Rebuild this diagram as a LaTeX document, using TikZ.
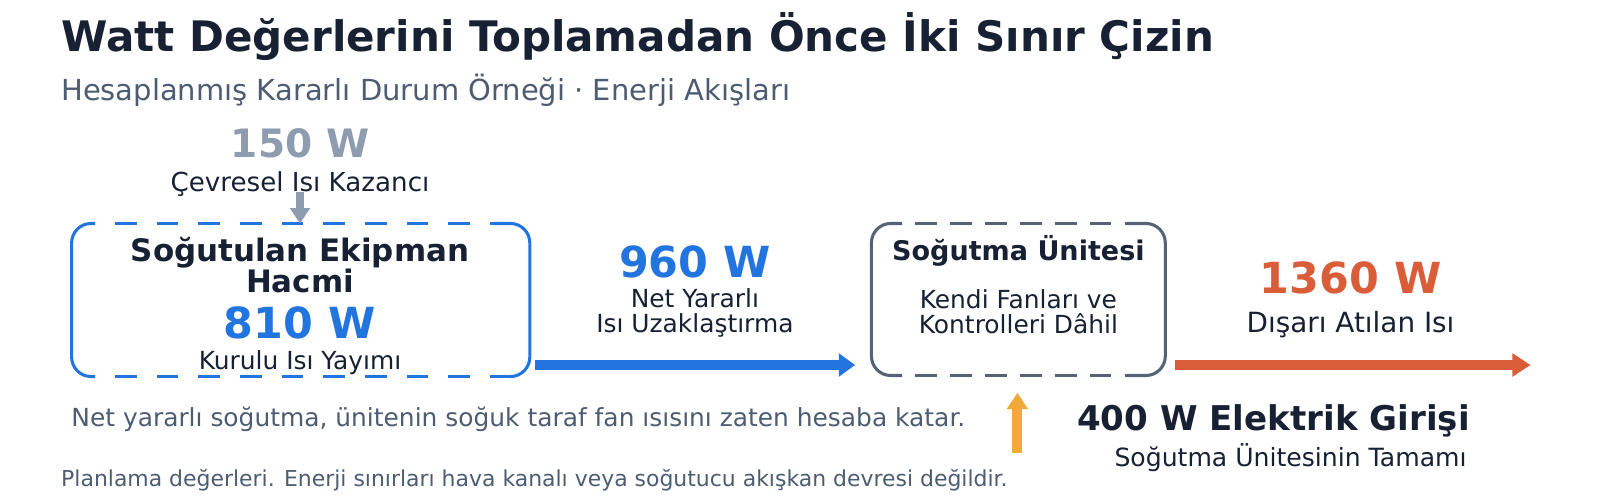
\documentclass[tikz,border=0pt]{standalone}
\usepackage{fontspec}
\setmainfont{DejaVu Sans}
\usepackage{xcolor}
\usetikzlibrary{arrows.meta}

\definecolor{inkc}{HTML}{172133}
\definecolor{slatec}{HTML}{4E5C72}
\definecolor{bluec}{HTML}{2275DE}
\definecolor{greyc}{HTML}{8E9CAF}
\definecolor{orangec}{HTML}{D95D39}
\definecolor{amberc}{HTML}{F2A93B}
\definecolor{unitc}{HTML}{566377}

\newcommand{\fsz}[1]{\fontsize{#1}{#1}\selectfont}

\begin{document}
\begin{tikzpicture}[x=1pt, y=-1pt, inner sep=0pt, outer sep=0pt,
  txt/.style={text=inkc, align=center, anchor=base},
  big/.style={font=\fsz{42}\bfseries, anchor=base},
  lab/.style={font=\fsz{24.4}, text=inkc, anchor=base},
  note/.style={font=\fsz{24.4}, text=slatec, anchor=base west},
  flow/.style={line width=10pt, -{Triangle[length=16pt,width=22pt]}},
  zone/.style={minimum width=449pt, minimum height=150pt},
  rim/.style={line width=3pt, rounded corners=19pt}]
  \useasboundingbox (0,0) rectangle (1568,490);

  \node[anchor=base west, text=inkc, font=\fsz{41.2}\bfseries] (title) at (60,50.6)
    {Watt Değerlerini Toplamadan Önce İki Sınır Çizin};
  \node[anchor=base west, text=slatec, font=\fsz{28.4}] (sub) at (60,98)
    {Hesaplanmış Kararlı Durum Örneği · Enerji Akışları};

  \node[zone] (equip) at (294.7,294) {};
  \node[zone, minimum width=288pt, minimum height=149pt] (unit) at (998,293.5) {};

  % equipment boundary
  \draw[rim, bluec] ([xshift=23pt]equip.north west) -- (equip.north west) -- (equip.south west) -- ([xshift=23pt]equip.south west);
  \draw[rim, bluec] ([xshift=-34pt]equip.north east) -- (equip.north east) -- (equip.south east) -- ([xshift=-16pt]equip.south east);
  \draw[rim, bluec, dash pattern=on 21.2pt off 19.6pt, dash phase=21.2pt] ([xshift=23pt]equip.north west) -- ([xshift=-34pt]equip.north east);
  \draw[rim, bluec, dash pattern=on 21.2pt off 19.6pt, dash phase=21.2pt] ([xshift=23pt]equip.south west) -- ([xshift=-16pt]equip.south east);

  % unit boundary
  \draw[rim, unitc] ([xshift=30pt]unit.north west) -- (unit.north west) -- (unit.south west) -- ([xshift=30pt]unit.south west);
  \draw[rim, unitc] ([xshift=-38pt]unit.north east) -- (unit.north east) -- (unit.south east) -- ([xshift=-38pt]unit.south east);
  \draw[rim, unitc, dash pattern=on 21.2pt off 13pt, dash phase=21.2pt] ([xshift=30pt]unit.north west) -- ([xshift=-38pt]unit.north east);
  \draw[rim, unitc, dash pattern=on 21.2pt off 13pt, dash phase=21.2pt] ([xshift=30pt]unit.south west) -- ([xshift=-38pt]unit.south east);

  \node[big, text=greyc, font=\fsz{38.3}\bfseries] (gain) at (294,154.5) {150 W};
  \node[lab, font=\fsz{25.6}] (gainlab) at (294,188) {Çevresel Isı Kazancı};

  \node[txt, font=\fsz{30.3}\bfseries] (eqname) at (294,256) {Soğutulan Ekipman};
  \node[txt, font=\fsz{30.3}\bfseries] (eqname2) at (294,287) {Hacmi};
  \node[big, text=bluec] (load) at (293.7,332) {810 W};
  \node[lab] (loadlab) at (294,362) {Kurulu Isı Yayımı};

  \node[big, text=bluec] (net) at (681,271.5) {960 W};
  \node[lab] (netlab) at (681,301) {Net Yararlı};
  \node[lab] (netlab2) at (681,325.5) {Isı Uzaklaştırma};

  \node[txt, font=\fsz{26.5}\bfseries] (uname) at (998,255) {Soğutma Ünitesi};
  \node[lab] (ulab) at (998,302) {Kendi Fanları ve};
  \node[lab] (ulab2) at (998,327) {Kontrolleri Dâhil};

  \node[big, text=orangec] (rej) at (1323.5,288) {1360 W};
  \node[lab, font=\fsz{27.3}] (rejlab) at (1323.5,326) {Dışarı Atılan Isı};

  \node[txt, font=\fsz{33.4}\bfseries] (elec) at (1248,421.4) {400 W Elektrik Girişi};
  \node[lab, font=\fsz{24.6}] (eleclab) at (1264.7,456.7) {Soğutma Ünitesinin Tamamı};

  \node[note] (note1) at (70,417.5) {Net yararlı soğutma, ünitenin soğuk taraf fan ısısını zaten hesaba katar.};
  \node[note, font=\fsz{21.5}] (note2) at (60,477) {Planlama değerleri. Enerji sınırları hava kanalı veya soğutucu akışkan devresi değildir.};

  \coordinate (qa) at (524,357.7);
  \coordinate (qb) at (838,357.7);
  \coordinate (ra) at (1151.5,357.7);
  \coordinate (rb) at (1500,357.7);
  \coordinate (pin) at (997,443.6);

  \draw[greyc, line width=8pt, -{Triangle[length=15pt,width=19pt]}] (gainlab.base) -- (gainlab.base |- equip.north);
  \draw[flow, bluec] (qa) -- (qb);
  \draw[flow, orangec, -{Triangle[length=18pt,width=22pt]}] (ra) -- (rb);
  \draw[flow, amberc, -{Triangle[length=16pt,width=20pt]}] (pin) -- ([yshift=-17pt]unit.south -| pin);
\end{tikzpicture}
\end{document}
